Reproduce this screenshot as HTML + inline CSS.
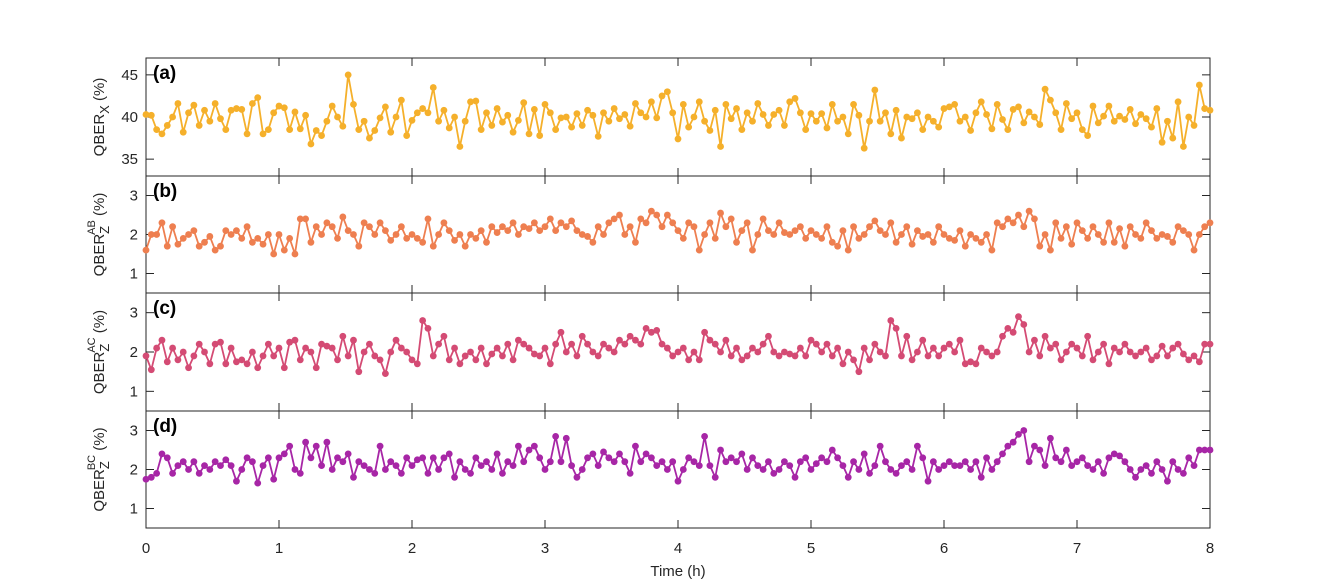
<!DOCTYPE html>
<html><head><meta charset="utf-8"><style>
body{margin:0;background:#fff}
svg{display:block;font-family:"Liberation Sans",sans-serif}
</style></head><body>
<svg id="chart" width="1329" height="587"></svg>
<script>
const hoursStep = 0.04;
const seriesA = [40.3,40.2,38.5,38.0,39.0,40.0,41.6,38.2,40.5,41.4,39.0,40.8,39.5,41.6,39.8,38.5,40.8,41.0,40.9,38.0,41.6,42.3,38.0,38.5,40.5,
41.3,41.1,38.5,40.6,38.6,40.2,36.8,38.4,37.8,39.5,41.3,40.0,38.9,45.0,41.5,38.5,39.5,37.5,38.4,39.9,41.2,38.2,40.0,42.0,37.8,
39.6,40.5,41.0,40.5,43.5,39.5,40.8,38.7,40.0,36.5,39.5,41.8,41.9,38.5,40.5,39.0,41.0,39.4,40.2,38.2,39.6,41.7,38.0,40.9,37.8,
41.5,40.5,38.5,39.9,40.0,38.8,40.4,39.0,40.8,40.2,37.7,40.5,39.5,41.0,39.8,40.3,38.9,41.6,40.5,40.0,41.8,39.9,42.5,43.0,40.5,
37.4,41.5,38.8,40.0,41.8,39.5,38.4,40.8,36.5,41.5,39.8,41.0,38.5,40.5,39.5,41.6,40.3,39.0,40.3,40.8,39.0,41.8,42.2,40.5,38.5,
40.4,39.5,40.4,38.7,41.5,39.5,40.0,38.0,41.5,40.2,36.3,39.5,43.2,39.5,40.5,38.0,40.8,37.5,40.0,39.8,40.5,38.5,40.0,39.5,38.8,
41.0,41.2,41.5,39.5,40.0,38.4,40.5,41.8,40.3,38.6,41.5,39.7,38.5,40.9,41.2,39.3,40.6,40.0,39.1,43.3,42.0,40.5,38.5,41.6,39.8,
40.5,38.5,37.8,41.3,39.3,40.1,41.3,39.5,40.1,39.7,40.9,39.2,40.3,39.8,38.8,41.0,37.0,39.5,37.5,41.8,36.5,40.0,39.0,43.8,41.0,40.8];
const seriesB = [1.6,2.0,2.0,2.3,1.7,2.2,1.75,1.9,2.0,2.1,1.7,1.8,1.95,1.6,1.7,2.1,2.0,2.1,1.9,2.2,1.8,1.9,1.75,2.0,1.5,
2.0,1.6,1.9,1.5,2.4,2.4,1.8,2.2,2.0,2.3,2.2,1.9,2.45,2.1,2.0,1.7,2.3,2.2,2.0,2.3,2.1,1.85,2.0,2.2,1.9,
2.0,1.9,1.8,2.4,1.7,2.0,2.3,2.1,1.85,2.0,1.7,2.0,1.9,2.1,1.8,2.2,2.05,2.2,2.1,2.3,2.0,2.2,2.15,2.3,2.1,
2.2,2.4,2.1,2.3,2.2,2.35,2.1,2.0,1.95,1.8,2.2,2.0,2.3,2.4,2.5,2.0,2.2,1.8,2.4,2.3,2.6,2.5,2.2,2.5,2.3,
2.1,1.9,2.3,2.2,1.6,2.0,2.3,1.9,2.55,2.2,2.4,1.8,2.1,2.3,1.6,2.0,2.4,2.1,2.0,2.3,2.05,2.0,2.1,2.2,1.9,
2.1,2.0,1.9,2.2,1.8,1.7,2.1,1.6,2.2,1.9,2.0,2.2,2.35,2.1,2.0,2.3,1.8,2.0,2.2,1.75,2.1,1.95,2.0,1.8,2.2,
2.0,1.9,1.85,2.1,1.7,2.0,1.9,1.8,2.0,1.6,2.3,2.2,2.4,2.3,2.5,2.2,2.6,2.4,1.7,2.0,1.6,2.3,1.9,2.2,1.75,
2.3,2.1,1.9,2.2,2.0,1.8,2.3,1.8,2.15,1.7,2.2,2.0,1.9,2.3,2.1,1.9,2.0,1.95,1.8,2.2,2.1,2.0,1.6,2.0,2.2,2.3];
const seriesC = [1.9,1.55,2.1,2.3,1.75,2.1,1.8,2.0,1.6,1.9,2.2,2.0,1.7,2.2,2.25,1.7,2.1,1.75,1.8,1.7,2.0,1.6,1.9,2.2,1.9,
2.1,1.6,2.25,2.3,1.8,2.1,2.0,1.6,2.2,2.15,2.1,1.8,2.4,1.9,2.3,1.5,2.0,2.2,1.9,1.8,1.45,2.0,2.3,2.1,2.0,
1.8,1.7,2.8,2.6,1.9,2.2,2.4,1.8,2.1,1.7,1.9,2.0,1.8,2.1,1.7,1.95,2.1,1.9,2.2,1.8,2.3,2.2,2.1,1.95,1.9,
2.1,1.7,2.2,2.5,2.0,2.2,1.9,2.4,2.2,2.0,1.9,2.2,2.1,2.0,2.3,2.2,2.4,2.3,2.2,2.6,2.5,2.55,2.2,2.1,1.9,
2.0,2.1,1.8,2.0,1.8,2.5,2.3,2.2,2.0,2.3,1.9,2.1,1.8,1.9,2.1,2.0,2.2,2.4,2.0,1.9,2.0,1.95,1.9,2.1,1.9,
2.3,2.2,2.0,2.2,1.9,2.1,1.7,2.0,1.8,1.5,2.1,1.8,2.2,2.0,1.9,2.8,2.6,1.9,2.4,1.8,2.0,2.3,1.9,2.1,1.9,
2.1,2.2,2.0,2.3,1.7,1.75,1.7,2.1,2.0,1.9,2.0,2.4,2.6,2.5,2.9,2.7,2.0,2.3,1.9,2.4,2.1,2.2,1.8,2.0,2.2,
2.1,1.9,2.4,1.8,2.0,2.2,1.7,2.1,2.0,2.2,2.0,1.9,2.0,2.1,1.8,1.9,2.15,1.9,2.1,2.2,1.95,1.8,1.9,1.75,2.2,2.2];
const seriesD = [1.75,1.8,1.9,2.4,2.3,1.9,2.1,2.2,2.0,2.2,1.9,2.1,2.0,2.2,2.1,2.25,2.1,1.7,2.0,2.3,2.2,1.65,2.1,2.3,1.75,
2.3,2.4,2.6,2.0,1.9,2.7,2.3,2.6,2.1,2.7,2.0,2.3,2.2,2.4,1.8,2.2,2.1,2.0,1.9,2.6,2.0,2.2,2.1,1.9,2.3,
2.1,2.25,2.3,1.9,2.3,2.0,2.3,2.4,1.8,2.2,2.0,1.9,2.3,2.1,2.2,2.0,2.4,1.9,2.2,2.1,2.6,2.2,2.5,2.6,2.3,
2.0,2.2,2.85,2.2,2.8,2.1,1.8,2.0,2.3,2.4,2.1,2.45,2.3,2.2,2.4,2.2,1.9,2.6,2.2,2.4,2.3,2.1,2.2,2.0,2.2,
1.7,2.0,2.3,2.2,2.1,2.85,2.1,1.8,2.5,2.2,2.3,2.2,2.4,2.0,2.3,2.1,2.0,2.2,1.9,2.0,2.2,2.1,1.8,2.2,2.3,
2.0,2.15,2.3,2.2,2.5,2.3,2.1,1.8,2.2,2.0,2.4,1.9,2.1,2.6,2.2,2.0,1.9,2.1,2.2,2.0,2.6,2.3,1.7,2.2,2.0,
2.1,2.2,2.1,2.1,2.2,2.0,2.2,1.8,2.3,2.0,2.2,2.4,2.6,2.7,2.9,3.0,2.2,2.6,2.5,2.1,2.8,2.3,2.2,2.5,2.1,
2.2,2.3,2.1,2.0,2.2,1.9,2.3,2.4,2.35,2.2,2.0,1.8,2.0,2.1,1.9,2.2,2.0,1.7,2.2,2.0,1.9,2.3,2.1,2.5,2.5,2.5];
const xTicks = [0,1,2,3,4,5,6,7,8];
const ticksA = [35,40,45];
const ticksZ = [1,2,3];

const NS="http://www.w3.org/2000/svg";
const svg=document.getElementById('chart');
const L=146,R=1210;
const xs=t=>L+(t/8)*(R-L);
function mk(tag,attrs,parent){const e=document.createElementNS(NS,tag);for(const k in attrs)e.setAttribute(k,attrs[k]);(parent||svg).appendChild(e);return e;}

const panels=[
 {key:'a',top:58,bot:176,min:33,max:47,data:seriesA,ticks:ticksA,color:'#f5b02b',sub:'X',sup:''},
 {key:'b',top:176,bot:293,min:0.5,max:3.5,data:seriesB,ticks:ticksZ,color:'#ee7f50',sub:'Z',sup:'AB'},
 {key:'c',top:293,bot:411,min:0.5,max:3.5,data:seriesC,ticks:ticksZ,color:'#d44b74',sub:'Z',sup:'AC'},
 {key:'d',top:411,bot:528,min:0.5,max:3.5,data:seriesD,ticks:ticksZ,color:'#a726a6',sub:'Z',sup:'BC'}
];
panels.forEach(p=>{
 const g=mk('g',{});
 
 
 const ys=v=>p.bot-(v-p.min)/(p.max-p.min)*(p.bot-p.top);
 const frame=mk('rect',{x:L,y:p.top,width:R-L,height:p.bot-p.top,fill:'none',stroke:'#262626','stroke-width':1},g);
 
 
 p.ticks.forEach(v=>{
  mk('line',{x1:L,x2:L+8,y1:ys(v),y2:ys(v),stroke:'#262626'},g);
  mk('line',{x1:R,x2:R-8,y1:ys(v),y2:ys(v),stroke:'#262626'},g);
  const t=mk('text',{x:L-8,y:ys(v)+5,'text-anchor':'end','font-size':15,fill:'#262626'},g);
  t.textContent=v;
  
  
 });
 xTicks.forEach(v=>{
  mk('line',{x1:xs(v),x2:xs(v),y1:p.bot,y2:p.bot-8,stroke:'#262626'},g);
  mk('line',{x1:xs(v),x2:xs(v),y1:p.top,y2:p.top+8,stroke:'#262626'},g);
 });
 const pts=p.data.map((v,i)=>xs(i*hoursStep)+','+ys(v)).join(' ');
 const line=mk('polyline',{points:pts,fill:'none',stroke:p.color,'stroke-width':1.8,'stroke-linejoin':'round'},g);
 
 
 p.data.forEach((v,i)=>{
  const c=mk('circle',{cx:xs(i*hoursStep),cy:ys(v),r:3.4,fill:p.color},g);
  
  
 });
 const lab=mk('text',{x:L+7,y:p.top+21,'font-size':19,'font-weight':'bold',fill:'#000'},g);
 lab.textContent='('+p.key+')';
 
 
 const cy=(p.top+p.bot)/2;
 const yt=mk('text',{transform:`translate(104,${cy}) rotate(-90)`,'text-anchor':'middle','font-size':15,fill:'#262626'},g);
 
 
 let html='<tspan>QBER</tspan>';
 if(p.sup){html+=`<tspan dy="5" font-size="13">${p.sub}</tspan><tspan dx="-9" dy="-14" font-size="11">${p.sup}</tspan><tspan dy="9"> (%)</tspan>`;}
 else{html+=`<tspan dy="5" font-size="13">${p.sub}</tspan><tspan dy="-5"> (%)</tspan>`;}
 yt.innerHTML=html;
});
xTicks.forEach(v=>{
 const t=mk('text',{x:xs(v),y:553,'text-anchor':'middle','font-size':15,fill:'#262626'});
 t.textContent=v;
 
 
});
const xt=mk('text',{x:678,y:576,'text-anchor':'middle','font-size':15,fill:'#262626'});
xt.textContent='Time (h)';


</script>
</body></html>
